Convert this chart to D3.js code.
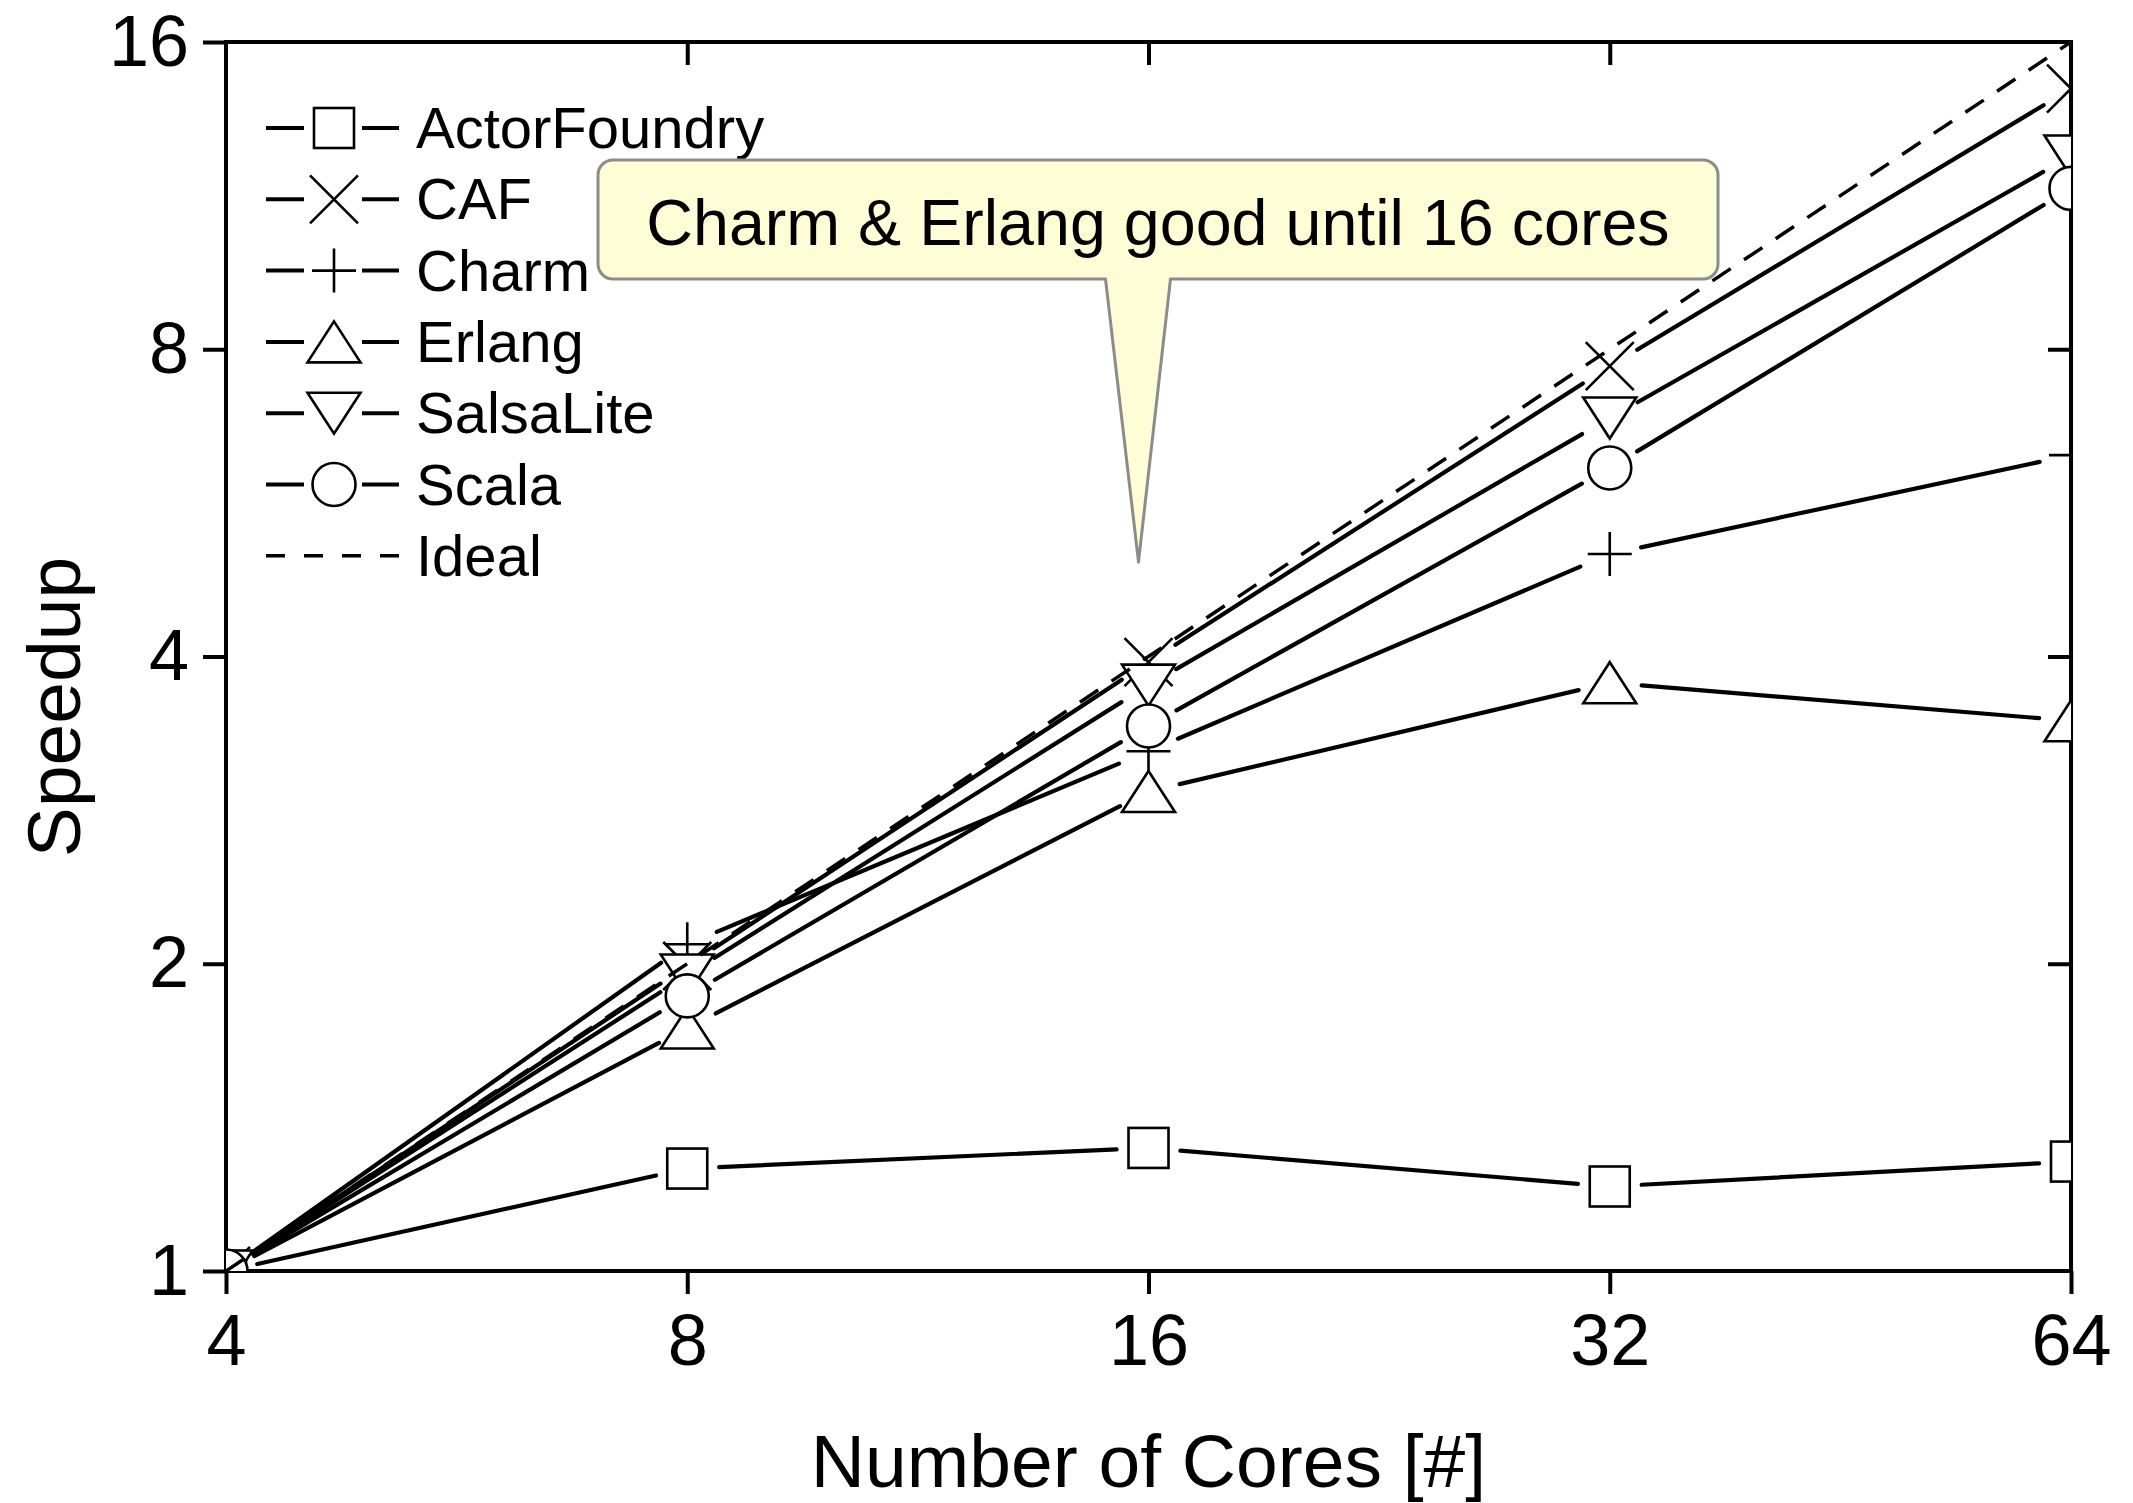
<!DOCTYPE html>
<html>
<head>
<meta charset="utf-8">
<script src="https://cdn.jsdelivr.net/npm/d3@7"></script>
<style>
  body { margin: 0; background: #fff; }
  svg text { font-family: "Liberation Sans", Arial, Helvetica, sans-serif; fill: #000; }
</style>
</head>
<body>
<script>
// data
const cores = [4, 8, 16, 32, 64];
const yTicks = [1, 2, 4, 8, 16];
const actorFoundry = [1, 1.26, 1.32, 1.21, 1.28];
const caf = [1, 1.99, 3.95, 7.70, 14.4];
const charm = [1, 2.09, 3.23, 5.04, 6.3];
const erlang = [1, 1.73, 2.95, 3.77, 3.46];
const salsaLite = [1, 1.95, 3.75, 6.85, 12.37];
const scala = [1, 1.86, 3.42, 6.12, 11.5];
const ideal = [1, 2, 4, 8, 16];
const seriesNames = ["ActorFoundry", "CAF", "Charm", "Erlang", "SalsaLite", "Scala", "Ideal"];
const seriesMarks = ["square", "cross", "plus", "triangle", "triangleDown", "circle", "none"];
const calloutText = "Charm & Erlang good until 16 cores";
const calloutPoint = [16, 4.95];

const width = 2133, height = 1503;
const m = { left: 226, right: 2071, top: 42, bottom: 1271 };

const svg = d3.select("body").append("svg")
  .attr("width", width)
  .attr("height", height);

const x = d3.scaleLog().base(2).domain([4, 64]).range([m.left, m.right]);
const y = d3.scaleLog().base(2).domain([1, 16]).range([m.bottom, m.top]);

// axes
const fmt = d3.format("d");
const xAxis = svg.append("g")
  .attr("transform", `translate(0,${m.bottom})`)
  .call(d3.axisBottom(x).tickValues(cores).tickFormat(fmt).tickSize(23).tickSizeOuter(0).tickPadding(20));
const yAxis = svg.append("g")
  .attr("transform", `translate(${m.left},0)`)
  .call(d3.axisLeft(y).tickValues(yTicks).tickFormat(fmt).tickSize(23).tickSizeOuter(0).tickPadding(14));
const topAxis = svg.append("g")
  .attr("transform", `translate(0,${m.top})`)
  .call(d3.axisTop(x).tickValues([8, 16, 32]).tickFormat("").tickSize(-23).tickSizeOuter(0));
const rightAxis = svg.append("g")
  .attr("transform", `translate(${m.right},0)`)
  .call(d3.axisRight(y).tickValues([2, 4, 8]).tickFormat("").tickSize(-23).tickSizeOuter(0));

[xAxis, yAxis, topAxis, rightAxis].forEach(a => {
  a.select(".domain").remove();
  a.selectAll(".tick line").attr("stroke", "#000").attr("stroke-width", 4);
  a.selectAll(".tick text").attr("font-size", 72).attr("font-family", null);
});

svg.append("rect")
  .attr("x", m.left).attr("y", m.top)
  .attr("width", m.right - m.left).attr("height", m.bottom - m.top)
  .attr("fill", "none").attr("stroke", "#000").attr("stroke-width", 4);

// axis titles
svg.append("text")
  .attr("x", (m.left + m.right) / 2).attr("y", 1487)
  .attr("text-anchor", "middle").attr("font-size", 75)
  .text("Number of Cores [#]");
svg.append("text")
  .attr("transform", "translate(80,707) rotate(-90)")
  .attr("text-anchor", "middle").attr("font-size", 75)
  .text("Speedup");

// markers
function drawMarker(g, type, cx, cy) {
  const s = { stroke: "#000", "stroke-width": 2.6, fill: "#fff" };
  let el;
  if (type === "square") {
    el = g.append("rect").attr("x", cx - 20).attr("y", cy - 20).attr("width", 40).attr("height", 40);
  } else if (type === "circle") {
    el = g.append("circle").attr("cx", cx).attr("cy", cy).attr("r", 21.5);
  } else if (type === "triangle") {
    el = g.append("path").attr("d", `M${cx},${cy - 20.5}L${cx + 26.5},${cy + 20.5}L${cx - 26.5},${cy + 20.5}Z`);
  } else if (type === "triangleDown") {
    el = g.append("path").attr("d", `M${cx - 26.5},${cy - 20.5}L${cx + 26.5},${cy - 20.5}L${cx},${cy + 20.5}Z`);
  } else if (type === "plus") {
    el = g.append("path").attr("d", `M${cx - 22},${cy}H${cx + 22}M${cx},${cy - 22}V${cy + 22}`);
  } else if (type === "cross") {
    el = g.append("path").attr("d", `M${cx - 24},${cy - 24}L${cx + 24},${cy + 24}M${cx + 24},${cy - 24}L${cx - 24},${cy + 24}`);
  } else return;
  Object.entries(s).forEach(([k, v]) => el.attr(k, v));
}

svg.append("clipPath").attr("id", "plotClip")
  .append("rect")
  .attr("x", m.left).attr("y", m.top)
  .attr("width", m.right - m.left).attr("height", m.bottom - m.top);

const plot = svg.append("g").attr("clip-path", "url(#plotClip)");

const allSeries = [actorFoundry, caf, charm, erlang, salsaLite, scala];
const gap = 32;

allSeries.forEach((vals, si) => {
  const pts = cores.map((c, i) => [x(c), y(vals[i])]);
  const g = plot.append("g");
  // line segments broken around the markers
  for (let i = 0; i < pts.length - 1; i++) {
    const [x1, y1] = pts[i], [x2, y2] = pts[i + 1];
    const len = Math.hypot(x2 - x1, y2 - y1);
    const ux = (x2 - x1) / len, uy = (y2 - y1) / len;
    g.append("line")
      .attr("x1", x1 + ux * gap).attr("y1", y1 + uy * gap)
      .attr("x2", x2 - ux * gap).attr("y2", y2 - uy * gap)
      .attr("stroke", "#000").attr("stroke-width", 4.2).attr("stroke-linecap", "round");
  }
  pts.forEach(p => drawMarker(g, seriesMarks[si], p[0], p[1]));
});

// ideal line
plot.append("path")
  .datum(cores.map((c, i) => [c, ideal[i]]))
  .attr("d", d3.line().x(d => x(d[0])).y(d => y(d[1])))
  .attr("fill", "none").attr("stroke", "#000").attr("stroke-width", 3.5)
  .attr("stroke-dasharray", "22,16");

// legend
const legend = svg.append("g");
seriesNames.forEach((name, i) => {
  const ly = 128 + i * 71.3;
  const row = legend.append("g");
  if (seriesMarks[i] === "none") {
    row.append("line").attr("x1", 266).attr("x2", 399).attr("y1", ly).attr("y2", ly)
      .attr("stroke", "#000").attr("stroke-width", 3.5).attr("stroke-dasharray", "19,19");
  } else {
    row.append("line").attr("x1", 266).attr("x2", 304).attr("y1", ly).attr("y2", ly)
      .attr("stroke", "#000").attr("stroke-width", 4);
    row.append("line").attr("x1", 362).attr("x2", 399).attr("y1", ly).attr("y2", ly)
      .attr("stroke", "#000").attr("stroke-width", 4);
    drawMarker(row, seriesMarks[i], 334, ly);
  }
  row.append("text").attr("x", 416).attr("y", ly + 20)
    .attr("font-size", 58).text(name);
});

// callout
const tipX = x(calloutPoint[0]) - 10, tipY = y(calloutPoint[1]);
const bx0 = 598, bx1 = 1718, by0 = 160, by1 = 279, r = 15;
const p = d3.path();
p.moveTo(bx0 + r, by0);
p.lineTo(bx1 - r, by0);
p.arcTo(bx1, by0, bx1, by0 + r, r);
p.lineTo(bx1, by1 - r);
p.arcTo(bx1, by1, bx1 - r, by1, r);
p.lineTo(tipX + 32, by1);
p.lineTo(tipX, tipY);
p.lineTo(tipX - 33, by1);
p.lineTo(bx0 + r, by1);
p.arcTo(bx0, by1, bx0, by1 - r, r);
p.lineTo(bx0, by0 + r);
p.arcTo(bx0, by0, bx0 + r, by0, r);
p.closePath();
svg.append("path").attr("d", p.toString())
  .attr("fill", "#fffdd6").attr("stroke", "#8c8c8c").attr("stroke-width", 3)
  .attr("stroke-linejoin", "round");
svg.append("text")
  .attr("x", (bx0 + bx1) / 2).attr("y", 245)
  .attr("text-anchor", "middle").attr("font-size", 64.6)
  .text(calloutText);
</script>
</body>
</html>
